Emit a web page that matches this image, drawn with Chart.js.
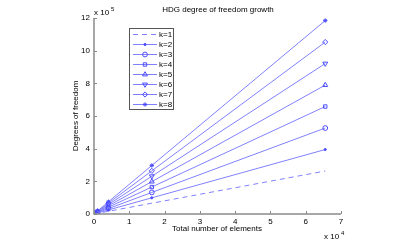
<!DOCTYPE html>
<html><head><meta charset="utf-8">
<script src="https://cdn.jsdelivr.net/npm/chart.js@4"></script>
<style>html,body{margin:0;padding:0;background:#fff}#c{display:block}</style>
</head><body>
<canvas id="c" width="403" height="250"></canvas>
<script>
const elements = [1, 4, 16, 64, 256, 1024, 4096, 16384, 65536];
const k1 = [8, 24, 80, 288, 1088, 4224, 16640, 66048, 263168];
const k2 = [12, 36, 120, 432, 1632, 6336, 24960, 99072, 394752];
const k3 = [16, 48, 160, 576, 2176, 8448, 33280, 132096, 526336];
const k4 = [20, 60, 200, 720, 2720, 10560, 41600, 165120, 657920];
const k5 = [24, 72, 240, 864, 3264, 12672, 49920, 198144, 789504];
const k6 = [28, 84, 280, 1008, 3808, 14784, 58240, 231168, 921088];
const k7 = [32, 96, 320, 1152, 4352, 16896, 66560, 264192, 1052672];
const k8 = [36, 108, 360, 1296, 4896, 19008, 74880, 297216, 1184256];
const seriesLabels = ['k=1','k=2','k=3','k=4','k=5','k=6','k=7','k=8'];
const xTicks = [0, 10000, 20000, 30000, 40000, 50000, 60000, 70000];
const yTicks = [0, 200000, 400000, 600000, 800000, 1000000, 1200000];

const LINE = '#8080ff';
const MARK = '#4d4dff';
const FONT = '"Liberation Sans", Arial, sans-serif';
const styles = [
  {ps:false, r:0, dash:[5,4]},
  {ps:'circle', r:1.1, fill:true},
  {ps:'circle', r:2.4},
  {ps:'rect', r:2.4},
  {ps:'triangle', r:2.8},
  {ps:'triangle', r:2.8, rot:180},
  {ps:'rectRot', r:2.6},
  {ps:'star', r:2.2}
];
const all = [k1,k2,k3,k4,k5,k6,k7,k8];
const datasets = all.map((s,i)=>{
  const st = styles[i];
  return {
    label: seriesLabels[i],
    data: elements.map((x,j)=>({x:x, y:s[j]})),
    borderColor: LINE,
    borderWidth: 1,
    borderDash: st.dash || [],
    pointStyle: st.ps,
    pointRadius: st.r,
    pointRotation: st.rot || 0,
    pointBorderColor: MARK,
    pointBackgroundColor: st.fill ? MARK : 'rgba(0,0,0,0)',
    pointBorderWidth: 1,
    tension: 0
  };
});

const decor = {
  id:'decor',
  afterDraw(chart){
    const ctx = chart.ctx, a = chart.chartArea;
    const xs = chart.scales.x, ys = chart.scales.y;
    ctx.save();
    ctx.strokeStyle = '#8a8a8a';
    ctx.lineWidth = 1.5;
    ctx.beginPath();
    ctx.moveTo(a.left, a.top); ctx.lineTo(a.left, a.bottom); ctx.lineTo(a.right, a.bottom);
    ctx.stroke();
    ctx.lineWidth = 1;
    ctx.beginPath();
    xTicks.forEach(v=>{ const p = Math.round(xs.getPixelForValue(v))+0.5; ctx.moveTo(p, a.bottom); ctx.lineTo(p, a.bottom-3); });
    yTicks.forEach(v=>{ const p = Math.round(ys.getPixelForValue(v))+0.5; ctx.moveTo(a.left, p); ctx.lineTo(a.left+3, p); });
    ctx.stroke();
    ctx.fillStyle = '#000';
    ctx.font = '8px ' + FONT;
    ctx.textAlign = 'center'; ctx.textBaseline = 'middle';
    ctx.fillText('HDG degree of freedom growth', 218, 10);
    ctx.fillText('Total number of elements', 217, 229);
    ctx.save();
    ctx.translate(76, 116); ctx.rotate(-Math.PI/2);
    ctx.fillText('Degrees of freedom', 0, 0);
    ctx.restore();
    ctx.textAlign = 'left';
    ctx.fillText('x 10', 324, 237);
    ctx.fillText('x 10', 94, 13);
    ctx.font = '6px ' + FONT;
    ctx.fillText('4', 341, 233);
    ctx.fillText('5', 111, 9);
    // legend
    const lx = 129, ly = 28, lw = 44, lh = 81;
    ctx.fillStyle = '#fff';
    ctx.fillRect(lx, ly, lw, lh);
    ctx.strokeStyle = '#555';
    ctx.lineWidth = 1;
    ctx.strokeRect(lx+0.5, ly+0.5, lw, lh);
    chart.data.datasets.forEach((ds,i)=>{
      const y = 34.5 + i*10;
      ctx.strokeStyle = LINE;
      ctx.lineWidth = 1;
      ctx.setLineDash(ds.borderDash);
      ctx.beginPath(); ctx.moveTo(133, y); ctx.lineTo(157, y); ctx.stroke();
      ctx.setLineDash([]);
      if (ds.pointStyle) {
        ctx.strokeStyle = MARK; ctx.fillStyle = ds.pointBackgroundColor;
        Chart.helpers.drawPoint(ctx, {pointStyle: ds.pointStyle, radius: ds.pointRadius, rotation: ds.pointRotation, borderWidth:1}, 145, y);
      }
      ctx.fillStyle = '#000';
      ctx.font = '8px ' + FONT;
      ctx.textAlign = 'left';
      ctx.fillText(ds.label, 159, y);
    });
    ctx.restore();
  }
};

new Chart(document.getElementById('c'), {
  type: 'line',
  data: { datasets },
  plugins: [decor],
  options: {
    responsive: false, animation: false, devicePixelRatio: 1,
    layout: { padding: { top: 18, right: 62, left: 0, bottom: 0 } },
    plugins: { legend: { display: false }, title: { display: false }, tooltip: { enabled: false } },
    scales: {
      x: {
        type: 'linear', min: 0, max: 70000,
        afterFit(s){ s.height = 36; },
        afterBuildTicks(s){ s.ticks = xTicks.map(v=>({value:v})); },
        grid: { display: false, drawTicks: false },
        border: { display: false },
        ticks: { padding: 3, color: '#000', font: { family: FONT, size: 8 }, maxRotation: 0,
                 callback: v => String(v/10000) }
      },
      y: {
        type: 'linear', min: 0, max: 1200000,
        afterFit(s){ s.width = 94; },
        afterBuildTicks(s){ s.ticks = yTicks.map(v=>({value:v})); },
        grid: { display: false, drawTicks: false },
        border: { display: false },
        ticks: { padding: 4, color: '#000', font: { family: FONT, size: 8 },
                 callback: v => String(v/100000) }
      }
    }
  }
});
</script>
</body></html>
